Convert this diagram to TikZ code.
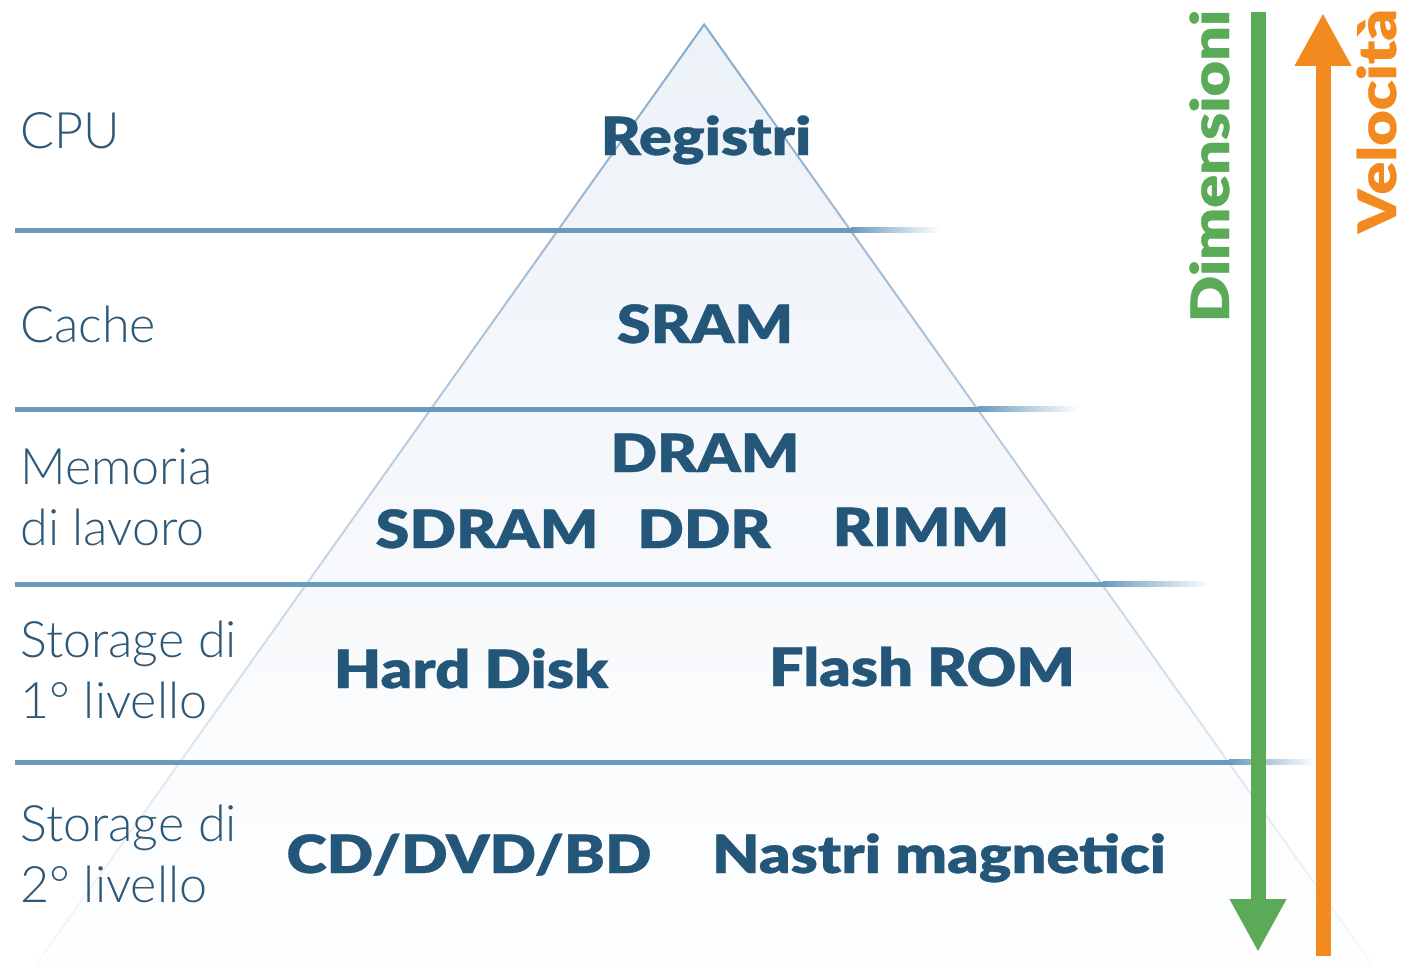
\documentclass[tikz,border=0pt]{standalone}
\usepackage{fontspec}
\setmainfont{Lato}
\newfontfamily\lightfont{Lato Light}
\newfontfamily\heavyfont{Lato Black}[FakeStretch=1.16, FakeBold=0.6]
\usetikzlibrary{arrows.meta,fadings}

\definecolor{labelcol}{HTML}{2E5878}
\definecolor{boldcol}{HTML}{245679}
\definecolor{bandline}{HTML}{6A9BBF}
\definecolor{pyredge}{HTML}{86AACA}
\definecolor{pyrfill}{HTML}{EDF2F8}
\definecolor{dimgreen}{HTML}{5AAA58}
\definecolor{velorange}{HTML}{F28A20}

\tikzfading[name=pyrfade, top color=transparent!0, middle color=transparent!10, bottom color=transparent!95]

\begin{document}
\begin{tikzpicture}[x=0.02cm, y=-0.02cm]
    \tikzstyle{level} = [anchor=base west, align=left, inner sep=0pt, text=labelcol, font=\lightfont\fontsize{28.6}{34.7}\selectfont]
    \tikzstyle{mem} = [anchor=base, inner sep=0pt, text=boldcol, font=\heavyfont\fontsize{30}{36}\selectfont]
    \tikzstyle{band} = [bandline, line width=0.1cm]
    \tikzstyle{bigarrow} = [line width=0.3cm, -{Triangle[width=1.06cm, length=1.06cm]}]
    \useasboundingbox (0,0) rectangle (1404,965);

    % pyramid
    \coordinate (apex) at (705,24);
    \coordinate (bl) at (36,965);
    \coordinate (br) at (1374,965);
    \fill[pyrfill, path fading=pyrfade] (apex) -- (br) -- (bl) -- cycle;
    \draw[pyredge, line width=0.04cm, path fading=pyrfade] (bl) -- (apex) -- (br);

    % level separators
    \foreach \y/\xa/\xb in {230/851/940, 409/978/1078, 584/1103/1210, 762/1229/1315} {
        \draw[band] (15,\y) -- (\xa,\y);
        \shade[left color=bandline, right color=white] (\xa,\y-2.5) rectangle (\xb,\y+2.5);
    }

    % level names (base = last line)
    \node (cpu) [level] at (20,148) {CPU};
    \node (cache) [level] at (20,342) {Cache};
    \node (ram) [level] at (20,545) {Memoria\\di lavoro};
    \node (st1) [level] at (20,718) {Storage di\\1° livello};
    \node (st2) [level] at (20,902) {Storage di\\2° livello};

    % memory types
    \node (reg) [mem] at (706,155) {Registri};
    \node (sram) [mem] at (705,343) {SRAM};
    \node (dram) [mem] at (705,472) {DRAM};
    \node (sdram) [mem] at (487,548) {SDRAM};
    \node (ddr) [mem] at (704,548) {DDR};
    \node (rimm) [mem] at (921,546) {RIMM};
    \node (hd) [mem] at (471,688) {Hard Disk};
    \node (flash) [mem] at (922,686) {Flash ROM};
    \node (cd) [mem] at (469,873) {CD/DVD/BD};
    \node (tape) [mem] at (939,873) {Nastri magnetici};

    % side arrows
    \coordinate (dimtop) at (1258,12);
    \coordinate (dimbot) at (1258,952);
    \coordinate (veltop) at (1323,13);
    \coordinate (velbot) at (1323,956);
    \draw[bigarrow, dimgreen] (dimtop) -- (dimbot);
    \draw[bigarrow, velorange] (velbot) -- (veltop);
    \node (dim) [mem, text=dimgreen, rotate=90] at (1229,166) {Dimensioni};
    \node (vel) [mem, text=velorange, rotate=90] at (1396,121) {Velocità};
\end{tikzpicture}
\end{document}
